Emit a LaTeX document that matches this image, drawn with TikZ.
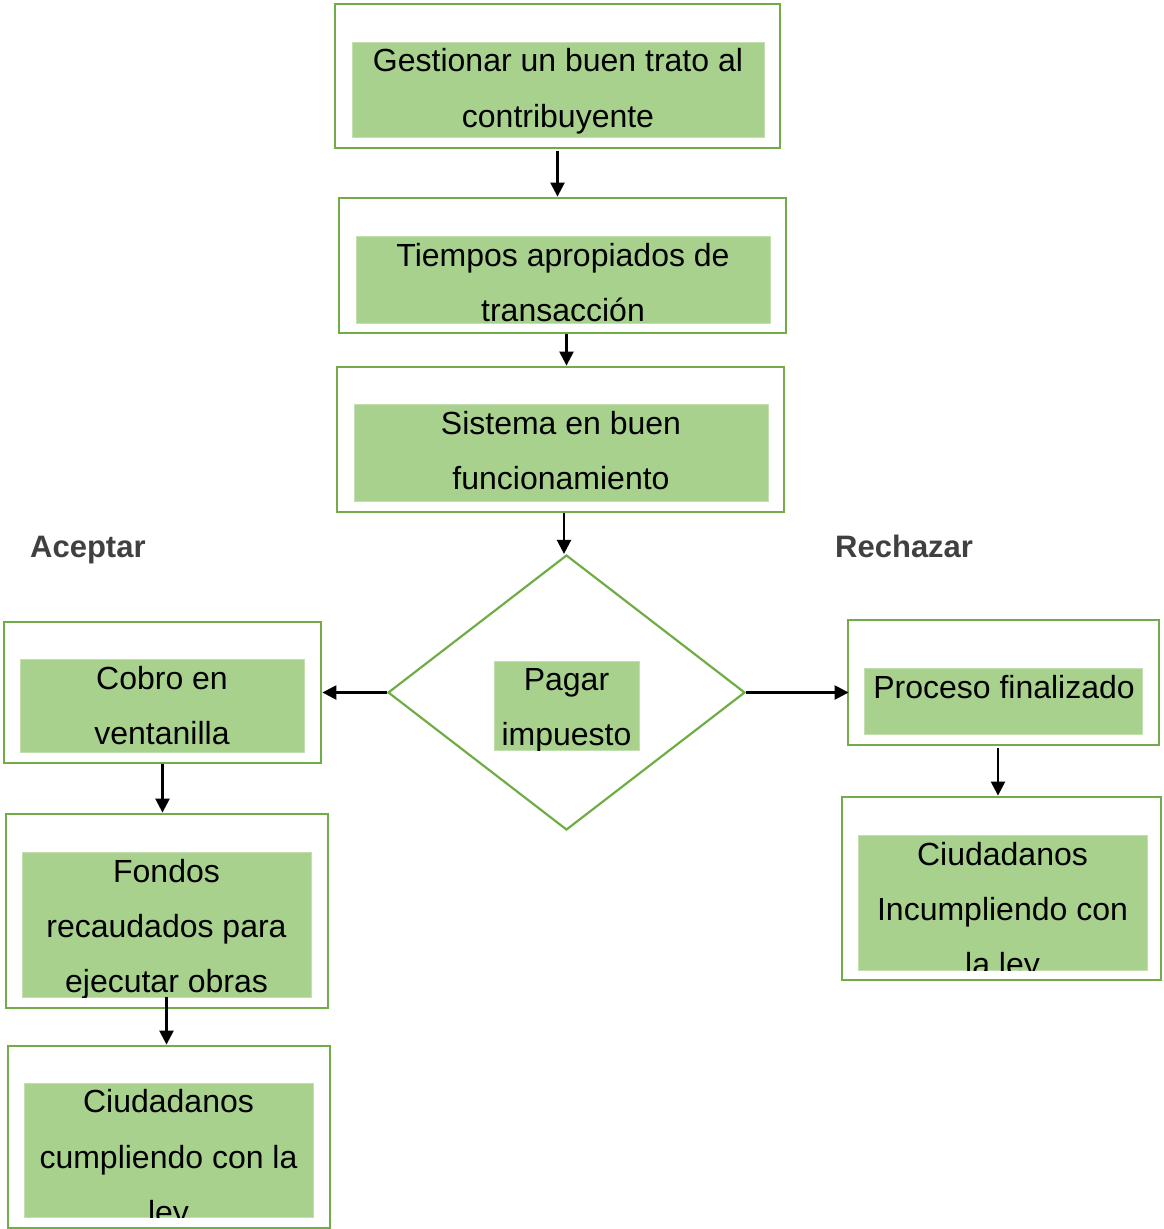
\documentclass[tikz,border=0pt]{standalone}
\usepackage{fontspec}
\setmainfont{Liberation Sans}
\usetikzlibrary{shapes.geometric,arrows.meta}
\definecolor{gline}{HTML}{70AD47}
\definecolor{gfill}{HTML}{A9D18E}
\definecolor{lbl}{HTML}{404040}
\tikzset{
  outerbox/.style={draw=gline, line width=2.8pt, fill=white, inner sep=0pt},
  innerbox/.style={fill=gfill, draw=gfill!70!white, line width=0.8pt, inner sep=0pt},
  txt/.style={anchor=base, inner sep=0pt, font=\fontsize{32}{38}\selectfont, text=black},
  side/.style={anchor=base west, inner sep=0pt, font=\fontsize{31}{36}\selectfont\bfseries, text=lbl},
  arr/.style={line width=2.4pt, -{Triangle[length=14pt,width=14pt]}},
}
\newcommand\txtline[4]{\node[txt] (#1) at (#2,#3) {#4};}
\begin{document}
\begin{tikzpicture}[x=1pt,y=-1pt]
\useasboundingbox (0,0) rectangle (1163,1229);
% top chain
\node[outerbox, minimum width=445, minimum height=144] (b1) at (557.5,76) {};
\node[innerbox, minimum width=412, minimum height=95] (ib1) at (558,89.5) {};
\begin{scope}
\clip (ib1.south west) rectangle (ib1.north east);
\txtline{t1a}{558}{71}{Gestionar un buen trato al}
\txtline{t1b}{558}{127}{contribuyente}
\end{scope}
\node[outerbox, minimum width=447, minimum height=135] (b2) at (562.5,265.5) {};
\node[innerbox, minimum width=414, minimum height=87] (ib2) at (563,279.5) {};
\begin{scope}
\clip (ib2.south west) rectangle (ib2.north east);
\txtline{t2a}{563}{266}{Tiempos apropiados de}
\txtline{t2b}{563}{321}{transacción}
\end{scope}
\node[outerbox, minimum width=447, minimum height=145] (b3) at (560.5,439.5) {};
\node[innerbox, minimum width=414, minimum height=97] (ib3) at (561,452.5) {};
\begin{scope}
\clip (ib3.south west) rectangle (ib3.north east);
\txtline{t3a}{561}{434}{Sistema en buen}
\txtline{t3b}{561}{489}{funcionamiento}
\end{scope}
% decision
\node[diamond, draw=gline, line width=2.2pt, inner sep=0pt, minimum width=357, minimum height=275] (d) at (566.5,692.5) {};
\node[innerbox, minimum width=145, minimum height=89] (id) at (566.5,705.5) {};
\begin{scope}
\clip (id.south west) rectangle (id.north east);
\txtline{tda}{566.5}{690}{Pagar}
\txtline{tdb}{566.5}{745}{impuesto}
\end{scope}
\node[side] (acc) at (30,557) {Aceptar};
\node[side] (rej) at (835,557) {Rechazar};
% left branch
\node[outerbox, minimum width=317, minimum height=141] (l1) at (162.5,692.5) {};
\node[innerbox, minimum width=284, minimum height=93] (il1) at (162,705.5) {};
\begin{scope}
\clip (il1.south west) rectangle (il1.north east);
\txtline{l1a}{162}{689}{Cobro en}
\txtline{l1b}{162}{744}{ventanilla}
\end{scope}
\node[outerbox, minimum width=322, minimum height=194] (l2) at (167,911) {};
\node[innerbox, minimum width=289, minimum height=145] (il2) at (166.5,924.5) {};
\begin{scope}
\clip (il2.south west) rectangle (il2.north east);
\txtline{l2a}{166.5}{882}{Fondos}
\txtline{l2b}{166.5}{937}{recaudados para}
\txtline{l2c}{166.5}{992}{ejecutar obras}
\end{scope}
\node[outerbox, minimum width=322, minimum height=182] (l3) at (169,1137) {};
\node[innerbox, minimum width=289, minimum height=134] (il3) at (168.5,1150) {};
\begin{scope}
\clip (il3.south west) rectangle (il3.north east);
\txtline{l3a}{168.5}{1112}{Ciudadanos}
\txtline{l3b}{168.5}{1168}{cumpliendo con la}
\txtline{l3c}{168.5}{1223}{ley}
\end{scope}
% right branch
\node[outerbox, minimum width=311, minimum height=125] (r1) at (1003.5,682.5) {};
\node[innerbox, minimum width=278, minimum height=66] (ir1) at (1003,701) {};
\begin{scope}
\clip (ir1.south west) rectangle (ir1.north east);
\txtline{r1a}{1004}{698}{Proceso finalizado}
\end{scope}
\node[outerbox, minimum width=319, minimum height=183] (r2) at (1001.5,888.5) {};
\node[innerbox, minimum width=289, minimum height=135] (ir2) at (1002.5,902.5) {};
\begin{scope}
\clip (ir2.south west) rectangle (ir2.north east);
\txtline{r2a}{1002.5}{865}{Ciudadanos}
\txtline{r2b}{1002.5}{920}{Incumpliendo con}
\txtline{r2c}{1002.5}{975}{la ley}
\end{scope}
% connectors
\draw[arr] ([yshift=-2pt]b1.south) -- (b1.south |- b2.north);
\draw[arr] (b2.south -| d.north) -- (b3.north -| d.north);
\draw[arr] ([xshift=3.5pt]b3.south) -- ([xshift=-2.5pt]d.north);
\draw[arr] (d.west) -- (l1.east);
\draw[arr] (d.east) -- ([xshift=2pt]d.east -| r1.west);
\draw[arr] (l1.south) -- (l1.south |- l2.north);
\draw[arr] (il2.south) -- (il2.south |- l3.north);
\draw[arr] ([xshift=-5.5pt,yshift=-2pt]r1.south) -- ([xshift=-5.5pt]r1.south |- r2.north);
\end{tikzpicture}
\end{document}
